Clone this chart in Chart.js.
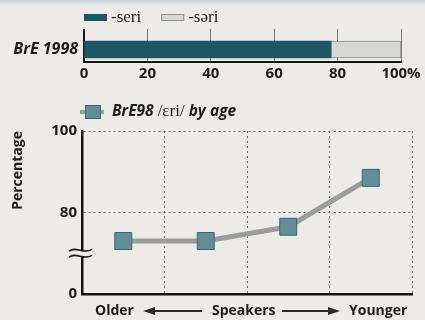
<!DOCTYPE html>
<html>
<head>
<meta charset="utf-8">
<script src="https://cdn.jsdelivr.net/npm/chart.js@4.4.1/dist/chart.umd.min.js"></script>
<style>
  html, body { margin: 0; padding: 0; }
  body { width: 425px; height: 320px; background: #edebe8; position: relative; overflow: hidden; }
  #band { position: absolute; left: 0; top: 0; width: 425px; height: 6px; background: linear-gradient(#c9d5da, #edebe8); }
  canvas { position: absolute; left: 0; }
  #chart-bar { top: 0; }
  #chart-age { top: 95px; }
</style>
</head>
<body>
<div id="band"></div>
<canvas id="chart-bar" width="425" height="85"></canvas>
<canvas id="chart-age" width="425" height="225"></canvas>
<script>
// data
const barCategories = ['BrE 1998'];
const seriValues    = [78];
const sariValues    = [22];

const ageGroups   = ['oldest', 'older', 'younger', 'youngest'];
const eriByAge    = [73, 73, 76.5, 88.5];
const yTickValues = [60, 80, 100];      // axis is broken below 80
const yTickLabels = ['0', '80', '100'];
const speakerAxis = ['Older', 'Speakers', 'Younger'];

const INK   = '#151515';
const SANS  = '"Open Sans", sans-serif';
const SERIF = '"Liberation Serif", serif';

// legend row for the stacked bar
const barLegend = {
  id: 'barLegend',
  afterDraw(chart, args, opts) {
    const ctx = chart.ctx;
    let x = chart.chartArea.left;
    ctx.save();
    ctx.font = '17px ' + SERIF;
    ctx.textBaseline = 'middle';
    chart.data.datasets.forEach(ds => {
      ctx.fillStyle = ds.backgroundColor;
      ctx.fillRect(x, opts.y - 3, 23, 7);
      if (ds.borderWidth) {
        ctx.strokeStyle = ds.borderColor;
        ctx.lineWidth = 1;
        ctx.strokeRect(x + 0.5, opts.y - 2.5, 22, 6);
      }
      ctx.fillStyle = '#222';
      ctx.fillText(ds.label, x + 27, opts.y + 1);
      x += 27 + ctx.measureText(ds.label).width + 20;
    });
    ctx.restore();
  }
};

new Chart(document.getElementById('chart-bar'), {
  type: 'bar',
  data: {
    labels: barCategories,
    datasets: [
      { label: '-seri', data: seriValues, backgroundColor: '#1d5664', borderWidth: 0, barThickness: 17 },
      { label: '-səri', data: sariValues, backgroundColor: '#d7d7d6', borderColor: '#8f8f8f', borderWidth: 1, barThickness: 17 }
    ]
  },
  options: {
    responsive: false,
    animation: false,
    indexAxis: 'y',
    layout: { padding: { top: 29, right: 24, left: 0, bottom: 0 } },
    plugins: { legend: { display: false }, tooltip: { enabled: false }, barLegend: { y: 17 } },
    scales: {
      x: {
        stacked: true, min: 0, max: 100,
        afterFit: s => { s.height = 23; },
        grid: { color: '#777', lineWidth: 1, drawTicks: false },
        border: { color: INK, width: 2 },
        ticks: { stepSize: 20, padding: 3, color: '#1c1c1c', font: { family: SANS, size: 15, weight: 'bold' },
                 callback: v => v === 100 ? '100%' : v }
      },
      x2: {
        type: 'linear', position: 'top', min: 0, max: 100,
        afterFit: s => { s.height = 8; },
        ticks: { display: false, stepSize: 20 },
        grid: { drawOnChartArea: false, tickLength: 8,
                color: c => c.index === 0 ? INK : '#777',
                lineWidth: c => c.index === 0 ? 2 : 1 },
        border: { display: false }
      },
      y: {
        stacked: true,
        afterFit: s => { s.width = 84; },
        grid: { display: false, drawTicks: false },
        border: { color: INK, width: 2 },
        ticks: { padding: 6, color: '#1c1c1c', font: { family: SANS, size: 16, weight: 'bold', style: 'italic' } }
      }
    }
  },
  plugins: [barLegend]
});

// legend, axis break and the Older <- Speakers -> Younger caption
const ageDecor = {
  id: 'ageDecor',
  afterDraw(chart, args, opts) {
    const ctx = chart.ctx;
    const area = chart.chartArea;
    const ds = chart.data.datasets[0];
    ctx.save();

    // legend: line through a square, then mixed-font label
    const ly = opts.legendY;
    ctx.strokeStyle = ds.borderColor;
    ctx.lineWidth = 4;
    ctx.beginPath(); ctx.moveTo(80, ly); ctx.lineTo(104, ly); ctx.stroke();
    ctx.fillStyle = ds.pointBackgroundColor;
    ctx.strokeStyle = ds.pointBorderColor;
    ctx.lineWidth = 1;
    ctx.fillRect(85, ly - 7, 16, 14);
    ctx.strokeRect(85.5, ly - 6.5, 15, 13);
    let x = 112;
    ctx.textBaseline = 'middle';
    ctx.fillStyle = '#1c1c1c';
    opts.legendParts.forEach(p => {
      ctx.font = p.serif ? '17px ' + SERIF : 'italic bold 15.5px ' + SANS;
      ctx.fillText(p.text, x, ly);
      x += ctx.measureText(p.text).width;
    });

    // axis break
    const yS = chart.scales.y;
    const by = yS.getPixelForValue(opts.breakValue);
    const ax = area.left;
    ctx.fillStyle = '#edebe8';
    ctx.fillRect(ax - 3, by - 3, 6, 6);
    ctx.strokeStyle = INK;
    ctx.lineWidth = 1.5;
    [-3, 3].forEach(dy => {
      ctx.beginPath();
      ctx.moveTo(ax - 13, by + dy + 1);
      ctx.bezierCurveTo(ax - 6, by + dy - 5, ax + 2, by + dy + 5, ax + 10, by + dy - 1);
      ctx.stroke();
    });

    // x caption with arrows
    const ty = opts.captionY;
    const L = area.left;
    ctx.font = 'bold 14px ' + SANS;
    ctx.fillStyle = '#1c1c1c';
    ctx.textAlign = 'left';
    ctx.fillText(speakerAxis[0], L + 13, ty);
    ctx.fillText(speakerAxis[1], L + 130, ty);
    ctx.fillText(speakerAxis[2], L + 267, ty);
    const arrow = (x0, x1) => {
      const dir = Math.sign(x1 - x0);
      ctx.strokeStyle = '#2a2a2a';
      ctx.fillStyle = '#2a2a2a';
      ctx.lineWidth = 2;
      ctx.beginPath(); ctx.moveTo(x0, ty); ctx.lineTo(x1 - dir * 8, ty); ctx.stroke();
      ctx.beginPath();
      ctx.moveTo(x1, ty);
      ctx.lineTo(x1 - dir * 12, ty - 4);
      ctx.lineTo(x1 - dir * 12, ty + 4);
      ctx.closePath(); ctx.fill();
    };
    arrow(L + 120, L + 61);
    arrow(L + 200, L + 258);
    ctx.restore();
  }
};

new Chart(document.getElementById('chart-age'), {
  type: 'line',
  data: {
    labels: ageGroups,
    datasets: [{
      label: 'BrE98 /ɛri/ by age',
      data: eriByAge,
      borderColor: '#9c9c9c',
      borderWidth: 5,
      tension: 0,
      pointStyle: 'rect',
      pointRadius: 12,
      pointBackgroundColor: '#618e97',
      pointBorderColor: '#3c6770',
      pointBorderWidth: 1
    }]
  },
  options: {
    responsive: false,
    animation: false,
    layout: { padding: { top: 36, right: 3, left: 0, bottom: 0 } },
    plugins: {
      legend: { display: false },
      tooltip: { enabled: false },
      ageDecor: {
        legendY: 17,
        legendParts: [{ text: 'BrE98 ' }, { text: '/ɛri/', serif: true }, { text: ' by age' }],
        breakValue: 70,
        captionY: 216
      }
    },
    scales: {
      x: {
        offset: true,
        afterFit: s => { s.height = 26; },
        grid: { offset: true, drawTicks: false, color: c => c.index === 0 ? 'rgba(0,0,0,0)' : '#6a6a6a' },
        border: { color: INK, width: 2.5, dash: [2, 3] },
        ticks: { display: false }
      },
      y: {
        min: 60, max: 100,
        afterFit: s => { s.width = 82; },
        grid: { drawTicks: false, color: c => c.index === 0 ? 'rgba(0,0,0,0)' : '#6a6a6a' },
        border: { color: INK, width: 2.5, dash: [2, 3] },
        title: { display: true, text: 'Percentage', align: 'end', padding: { top: 10, bottom: 0 },
                 color: '#1c1c1c', font: { family: SANS, size: 14, weight: 'bold' } },
        afterBuildTicks: s => { s.ticks = yTickValues.map(v => ({ value: v })); },
        ticks: { padding: 5, color: '#1c1c1c', font: { family: SANS, size: 15, weight: 'bold' },
                 callback: v => yTickLabels[yTickValues.indexOf(v)] }
      }
    }
  },
  plugins: [ageDecor]
});
</script>
</body>
</html>
